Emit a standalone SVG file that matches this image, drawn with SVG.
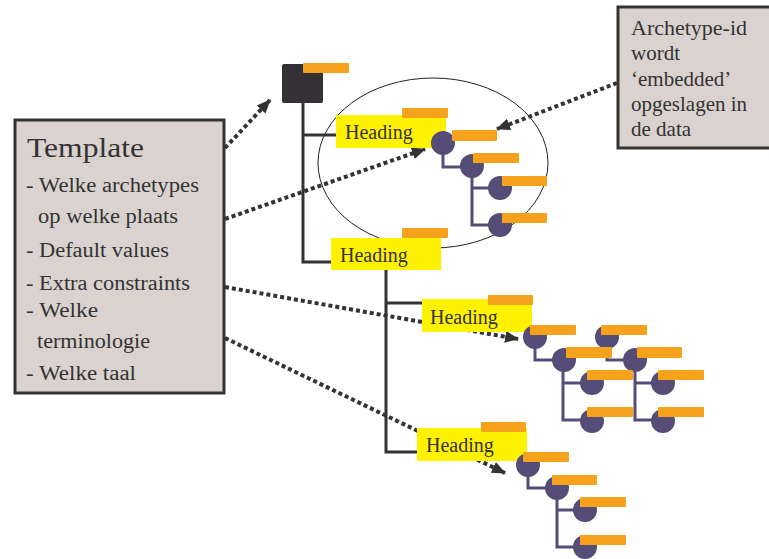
<svg xmlns="http://www.w3.org/2000/svg" width="769" height="559" viewBox="0 0 769 559">
<style>
.box{fill:#d9d2cf;stroke:#333;stroke-width:3}
.t{font-family:"Liberation Serif",serif;fill:#333}
.tree{fill:none;stroke:#333;stroke-width:3}
.ptree{fill:none;stroke:#554c78;stroke-width:3}
.c{fill:#554c78}
.bar{fill:#f6a21d}
.hd{fill:#fff200}
.dot{fill:none;stroke:#333;stroke-width:4;stroke-dasharray:4 3}
</style>
<defs>
<marker id="ah" markerUnits="userSpaceOnUse" markerWidth="14" markerHeight="14" refX="13" refY="7" orient="auto">
<path d="M0,1 L14,7 L0,13 z" fill="#333"/>
</marker>
</defs>
<rect width="769" height="559" fill="#fff"/>
<ellipse id="group-ellipse" cx="433" cy="163" rx="115" ry="85" fill="none" stroke="#222" stroke-width="1"/>
<g id="tree-lines">
<path class="tree" d="M303,103 V262 H331 M303,135 H337 M386,268 V452 H417 M386,303 H422"/>
</g>
<g id="connectors">
<line class="dot" x1="225" y1="148" x2="270" y2="100" marker-end="url(#ah)"/>
<line class="dot" x1="225" y1="219" x2="425" y2="149" marker-end="url(#ah)"/>
<line class="dot" x1="617" y1="83" x2="497" y2="129" marker-end="url(#ah)"/>
<line class="dot" x1="225" y1="287" x2="518" y2="339" marker-end="url(#ah)"/>
<line class="dot" x1="225" y1="338" x2="505" y2="473" marker-end="url(#ah)"/>
</g>
<g id="root">
<rect x="282" y="64" width="41" height="39" rx="2" fill="#333036"/>
<rect class="bar" x="303" y="63" width="46" height="10" rx="1"/>
</g>
<g id="heading1">
<rect class="hd" x="336" y="115" width="110" height="33"/>
<rect class="bar" x="402" y="108" width="46" height="10" rx="1"/>
<text class="t" x="345" y="139" font-size="20">Heading</text>
</g>
<g id="heading2">
<rect class="hd" x="331" y="238" width="110" height="32"/>
<rect class="bar" x="402" y="228" width="46" height="10" rx="1"/>
<text class="t" x="340" y="262" font-size="20">Heading</text>
</g>
<g id="heading3">
<rect class="hd" x="422" y="299" width="110" height="33"/>
<rect class="bar" x="488" y="295" width="45" height="10" rx="1"/>
<text class="t" x="430" y="324" font-size="20">Heading</text>
</g>
<g id="heading4">
<rect class="hd" x="417" y="428" width="110" height="33"/>
<rect class="bar" x="481" y="422" width="45" height="10" rx="1"/>
<text class="t" x="426" y="452" font-size="20">Heading</text>
</g>
<g id="tree1">
<path class="ptree" d="M443,143 V167 H472 M472,166 V225 H500 M472,188 H500"/>
<circle class="c" cx="443" cy="143" r="12"/>
<circle class="c" cx="472" cy="166" r="12"/>
<circle class="c" cx="500" cy="188" r="12"/>
<circle class="c" cx="500" cy="225" r="12"/>
<rect class="bar" x="452" y="130" width="45" height="11" rx="1"/>
<rect class="bar" x="473" y="153" width="46" height="10" rx="1"/>
<rect class="bar" x="502" y="176" width="45" height="10" rx="1"/>
<rect class="bar" x="502" y="213" width="45" height="10" rx="1"/>
</g>
<g id="tree2">
<path class="ptree" d="M535,337 V360 H564 M563,360 V420 H592 M563,383 H592 M607,337 V360 H635 M635,360 V420 H663 M635,383 H663"/>
<circle class="c" cx="535" cy="337" r="12"/>
<circle class="c" cx="564" cy="360" r="12"/>
<circle class="c" cx="592" cy="383" r="12"/>
<circle class="c" cx="592" cy="421" r="12"/>
<circle class="c" cx="607" cy="337" r="12"/>
<circle class="c" cx="635" cy="360" r="12"/>
<circle class="c" cx="663" cy="383" r="12"/>
<circle class="c" cx="663" cy="421" r="12"/>
<rect class="bar" x="530" y="325" width="46" height="10" rx="1"/>
<rect class="bar" x="566" y="347" width="46" height="11" rx="1"/>
<rect class="bar" x="587" y="370" width="46" height="10" rx="1"/>
<rect class="bar" x="587" y="407" width="46" height="10" rx="1"/>
<rect class="bar" x="601" y="325" width="46" height="10" rx="1"/>
<rect class="bar" x="637" y="347" width="45" height="11" rx="1"/>
<rect class="bar" x="658" y="370" width="46" height="10" rx="1"/>
<rect class="bar" x="658" y="407" width="46" height="10" rx="1"/>
</g>
<g id="tree3">
<path class="ptree" d="M528,465 V488 H557 M557,488 V547 H585 M557,510 H585"/>
<circle class="c" cx="528" cy="465" r="12"/>
<circle class="c" cx="557" cy="488" r="12"/>
<circle class="c" cx="585" cy="510" r="12"/>
<circle class="c" cx="585" cy="547" r="12"/>
<rect class="bar" x="523" y="452" width="46" height="10" rx="1"/>
<rect class="bar" x="552" y="475" width="45" height="10" rx="1"/>
<rect class="bar" x="580" y="497" width="46" height="10" rx="1"/>
<rect class="bar" x="580" y="535" width="46" height="10" rx="1"/>
</g>
<g id="template">
<rect class="box" x="15" y="120" width="209" height="273"/>
<text class="t" x="27" y="157" font-size="28" textLength="117" lengthAdjust="spacingAndGlyphs">Template</text>
<text class="t" x="26" y="192" font-size="20" textLength="173" lengthAdjust="spacingAndGlyphs">- Welke archetypes</text>
<text class="t" x="38" y="223" font-size="20" textLength="140" lengthAdjust="spacingAndGlyphs">op welke plaats</text>
<text class="t" x="26" y="257" font-size="20" textLength="143" lengthAdjust="spacingAndGlyphs">- Default values</text>
<text class="t" x="26" y="290" font-size="20" textLength="164" lengthAdjust="spacingAndGlyphs">- Extra constraints</text>
<text class="t" x="26" y="317" font-size="20" textLength="72" lengthAdjust="spacingAndGlyphs">- Welke</text>
<text class="t" x="37" y="348" font-size="20" textLength="113" lengthAdjust="spacingAndGlyphs">terminologie</text>
<text class="t" x="26" y="380" font-size="20" textLength="110" lengthAdjust="spacingAndGlyphs">- Welke taal</text>
</g>
<g id="archetype-note">
<rect class="box" x="618" y="7" width="160" height="141"/>
<text class="t" x="631" y="35" font-size="21" textLength="116" lengthAdjust="spacingAndGlyphs">Archetype-id</text>
<text class="t" x="631" y="60" font-size="21">wordt</text>
<text class="t" x="631" y="86" font-size="21">‘embedded’</text>
<text class="t" x="631" y="111" font-size="21">opgeslagen in</text>
<text class="t" x="631" y="136" font-size="21">de data</text>
</g>
</svg>
